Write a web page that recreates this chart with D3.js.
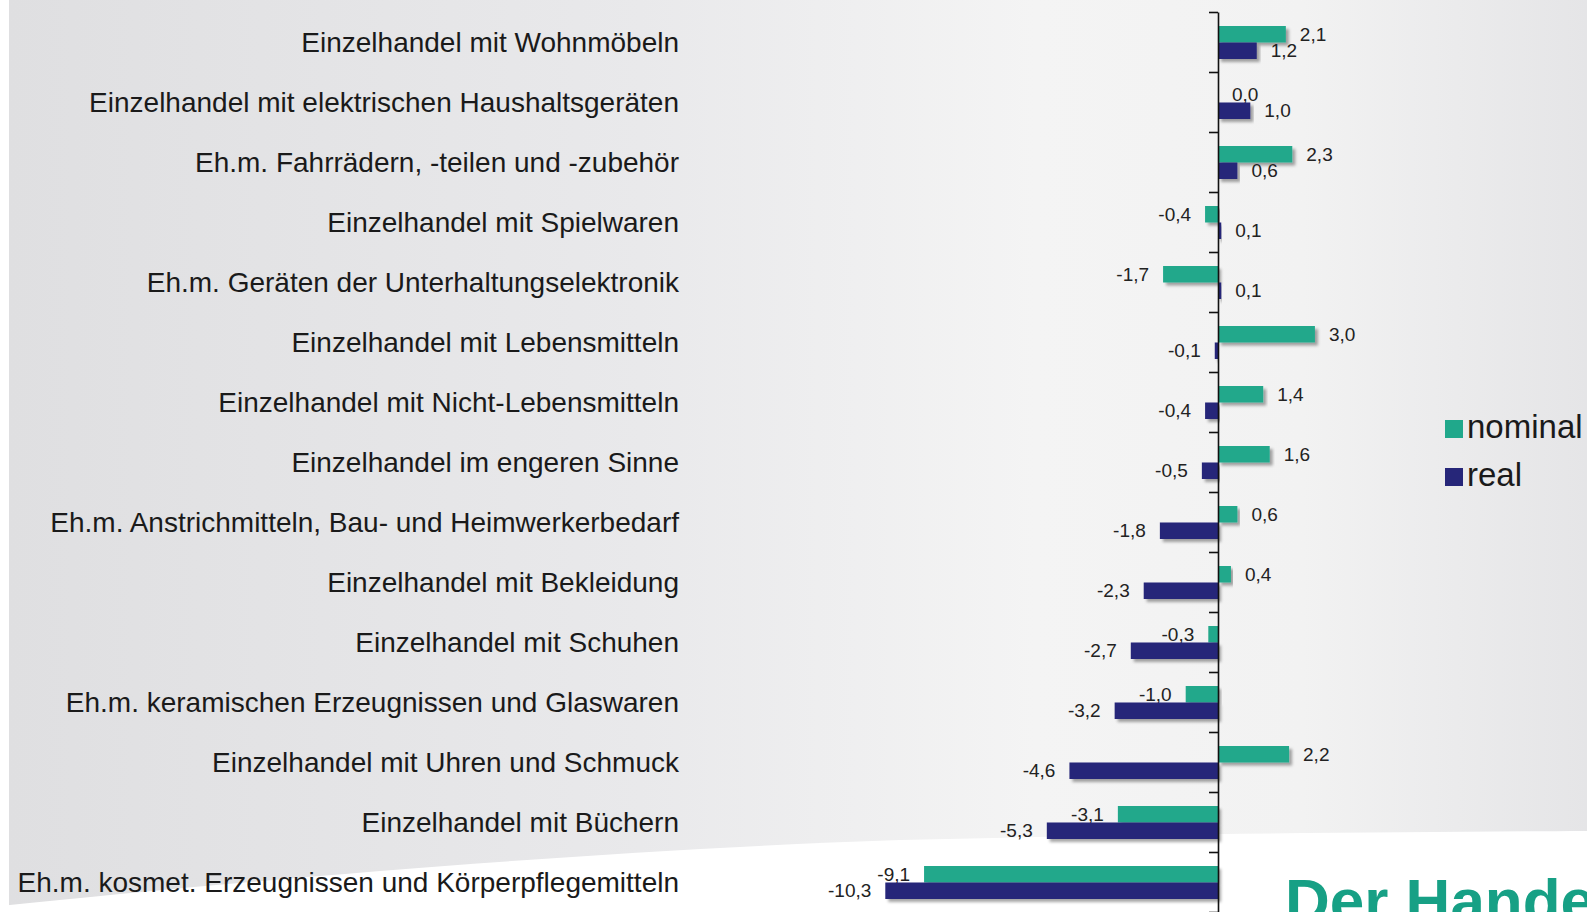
<!DOCTYPE html>
<html>
<head>
<meta charset="utf-8">
<script src="https://cdn.jsdelivr.net/npm/d3@7"></script>
<style>
  body { margin: 0; background: #fff; overflow: hidden; }
  text { font-family: Arial, "Liberation Sans", sans-serif; }
</style>
</head>
<body>
<div id="chart"></div>
<script>
// data
const categories = [
  "Einzelhandel mit Wohnmöbeln",
  "Einzelhandel mit elektrischen Haushaltsgeräten",
  "Eh.m. Fahrrädern, -teilen und -zubehör",
  "Einzelhandel mit Spielwaren",
  "Eh.m. Geräten der Unterhaltungselektronik",
  "Einzelhandel mit Lebensmitteln",
  "Einzelhandel mit Nicht-Lebensmitteln",
  "Einzelhandel im engeren Sinne",
  "Eh.m. Anstrichmitteln, Bau- und Heimwerkerbedarf",
  "Einzelhandel mit Bekleidung",
  "Einzelhandel mit Schuhen",
  "Eh.m. keramischen Erzeugnissen und Glaswaren",
  "Einzelhandel mit Uhren und Schmuck",
  "Einzelhandel mit Büchern",
  "Eh.m. kosmet. Erzeugnissen und Körperpflegemitteln"
];
const seriesNames = ["nominal", "real"];
const nominal = [2.1, 0.0, 2.3, -0.4, -1.7, 3.0, 1.4, 1.6, 0.6, 0.4, -0.3, -1.0, 2.2, -3.1, -9.1];
const real = [1.2, 1.0, 0.6, 0.1, 0.1, -0.1, -0.4, -0.5, -1.8, -2.3, -2.7, -3.2, -4.6, -5.3, -10.3];
const colors = ["#20a88b", "#262679"];

const W = 1587, H = 912;

const svg = d3.select("#chart").append("svg")
  .attr("width", W)
  .attr("height", H);

const defs = svg.append("defs");
const grad = defs.append("linearGradient").attr("id", "bg").attr("x1", 0).attr("x2", 1).attr("y1", 0).attr("y2", 0);
[["0%", "#dfdfe1"], ["40%", "#e9e9eb"], ["65%", "#f4f4f4"], ["82%", "#f2f2f2"], ["100%", "#e5e5e7"]]
  .forEach(s => grad.append("stop").attr("offset", s[0]).attr("stop-color", s[1]));

const shadow = defs.append("filter").attr("id", "shadow")
  .attr("x", "-5%").attr("y", "-30%").attr("width", "115%").attr("height", "180%");
shadow.append("feDropShadow")
  .attr("dx", 3).attr("dy", 3).attr("stdDeviation", 1.6)
  .attr("flood-color", "#000").attr("flood-opacity", 0.35);

// background
svg.append("rect").attr("x", 9).attr("y", 0).attr("width", W - 9).attr("height", H).attr("fill", "url(#bg)");
svg.append("path")
  .attr("d", "M0,912 L0,906 C250,880 600,850 900,840 C1150,834 1400,832 1587,831 L1587,912 Z")
  .attr("fill", "#fff");

// scales
const y = d3.scaleBand()
  .domain(categories)
  .range([12, 912])
  .padding(0);

const inner = d3.scaleBand()
  .domain(seriesNames)
  .range([14, 47]);

const x = d3.scaleLinear()
  .domain([-11, 4])
  .range([1218 - 11 * 32.3, 1218 + 4 * 32.3]);

const fmt = v => d3.format(".1f")(v).replace(".", ",").replace("−", "-");

// category labels
svg.append("g").selectAll("text")
  .data(categories)
  .enter()
  .append("text")
  .attr("x", 679)
  .attr("y", d => y(d) + y.bandwidth() / 2)
  .attr("dy", "0.36em")
  .attr("text-anchor", "end")
  .attr("font-size", 28)
  .attr("fill", "#1a1a1a")
  .text(d => d);

// rows
const rows = categories.map((c, i) => ({ cat: c, vals: [nominal[i], real[i]] }));

const groups = svg.append("g").selectAll("g")
  .data(rows)
  .enter()
  .append("g")
  .attr("transform", d => `translate(0,${y(d.cat)})`);

const marks = groups.selectAll("g")
  .data(d => d.vals.map((v, j) => ({ series: seriesNames[j], v: v, j: j })))
  .enter()
  .append("g");

marks.append("text")
  .attr("class", "label")
  .attr("x", d => d.v >= 0 ? x(d.v) + 14 : x(d.v) - 14)
  .attr("y", d => inner(d.series) + inner.bandwidth() / 2)
  .attr("dy", "0.33em")
  .attr("text-anchor", d => d.v >= 0 ? "start" : "end")
  .attr("font-size", 19)
  .attr("fill", "#222")
  .text(d => fmt(d.v));

marks.filter(d => d.v !== 0).append("rect")
  .attr("x", d => x(Math.min(0, d.v)))
  .attr("y", d => inner(d.series))
  .attr("width", d => Math.abs(x(d.v) - x(0)))
  .attr("height", inner.bandwidth())
  .attr("fill", d => colors[d.j])
  .attr("filter", "url(#shadow)");

// axis at zero
const yIdx = d3.scaleLinear().domain([0, categories.length]).range([12, 912]);
const gAxis = svg.append("g")
  .attr("transform", `translate(${x(0)},0)`)
  .call(d3.axisLeft(yIdx).tickValues(d3.range(categories.length + 1)).tickFormat("").tickSizeInner(9).tickSizeOuter(0));
gAxis.selectAll("path, line").attr("stroke", "#111").attr("stroke-width", 1.6);

// legend
const legend = svg.append("g").selectAll("g")
  .data(seriesNames)
  .enter()
  .append("g")
  .attr("transform", (d, i) => `translate(1445,${420 + i * 48})`);
legend.append("rect")
  .attr("width", 18).attr("height", 18)
  .attr("fill", (d, i) => colors[i]);
legend.append("text")
  .attr("x", 22).attr("y", 18)
  .attr("font-size", 33)
  .attr("fill", "#1a1a1a")
  .text(d => d);

// logo text, cut off at the corner as in the reference
svg.append("text")
  .attr("x", 1285).attr("y", 922)
  .attr("font-size", 62)
  .attr("font-weight", "bold")
  .attr("fill", "#17a085")
  .text("Der Hande");
</script>
</body>
</html>
